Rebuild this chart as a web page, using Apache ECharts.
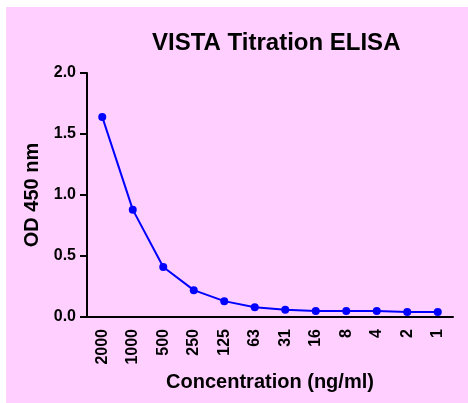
<!DOCTYPE html>
<html><head><meta charset="utf-8">
<script src="https://cdn.jsdelivr.net/npm/echarts@6/dist/echarts.min.js"></script>
<style>html,body{margin:0;padding:0;background:#fff;}#c{position:absolute;left:6px;top:7px;width:462px;height:396px;}</style>
</head><body><div id="c"></div>
<script>
const categories = ['2000','1000','500','250','125','63','31','16','8','4','2','1'];
const odValues = [1.64, 0.88, 0.41, 0.22, 0.13, 0.08, 0.06, 0.05, 0.05, 0.05, 0.04, 0.04];
const yTicks = {min: 0, max: 2, interval: 0.5};

const chart = echarts.init(document.getElementById('c'));
const F = 'Liberation Sans, Arial, sans-serif';
chart.setOption({
  backgroundColor: '#ffd0ff',
  animation: false,
  title: {
    text: 'VISTA Titration ELISA', left: 141, top: 19,
    textStyle: {fontFamily: F, fontWeight: 'bold', fontSize: 24, color: '#000'}
  },
  grid: {left: 81, right: 15, top: 66, bottom: 86},
  xAxis: {
    type: 'category', data: categories, boundaryGap: true,
    name: 'Concentration (ng/ml)', nameLocation: 'middle', nameGap: 52,
    nameTextStyle: {fontFamily: F, fontWeight: 'bold', fontSize: 20, color: '#000'},
    axisLine: {lineStyle: {color: '#000', width: 2}},
    axisTick: {alignWithLabel: true, length: 7, lineStyle: {color: '#000', width: 2}},
    axisLabel: {rotate: 90, interval: 0, margin: 12, fontFamily: F, fontWeight: 'bold', fontSize: 16, color: '#000'},
    splitLine: {show: false}
  },
  yAxis: {
    type: 'value', min: yTicks.min, max: yTicks.max, interval: yTicks.interval,
    name: 'OD 450 nm', nameLocation: 'middle', nameGap: 42,
    nameTextStyle: {fontFamily: F, fontWeight: 'bold', fontSize: 20, color: '#000'},
    axisLine: {show: true, lineStyle: {color: '#000', width: 2}},
    axisTick: {show: true, length: 7, lineStyle: {color: '#000', width: 2}},
    axisLabel: {margin: 11, fontFamily: F, fontWeight: 'bold', fontSize: 16, color: '#000', formatter: v => v.toFixed(1)},
    splitLine: {show: false}
  },
  series: [{
    type: 'line', data: odValues, symbol: 'circle', symbolSize: 8,
    itemStyle: {color: '#0000ff'}, lineStyle: {color: '#0000ff', width: 2}
  }]
});
</script></body></html>
